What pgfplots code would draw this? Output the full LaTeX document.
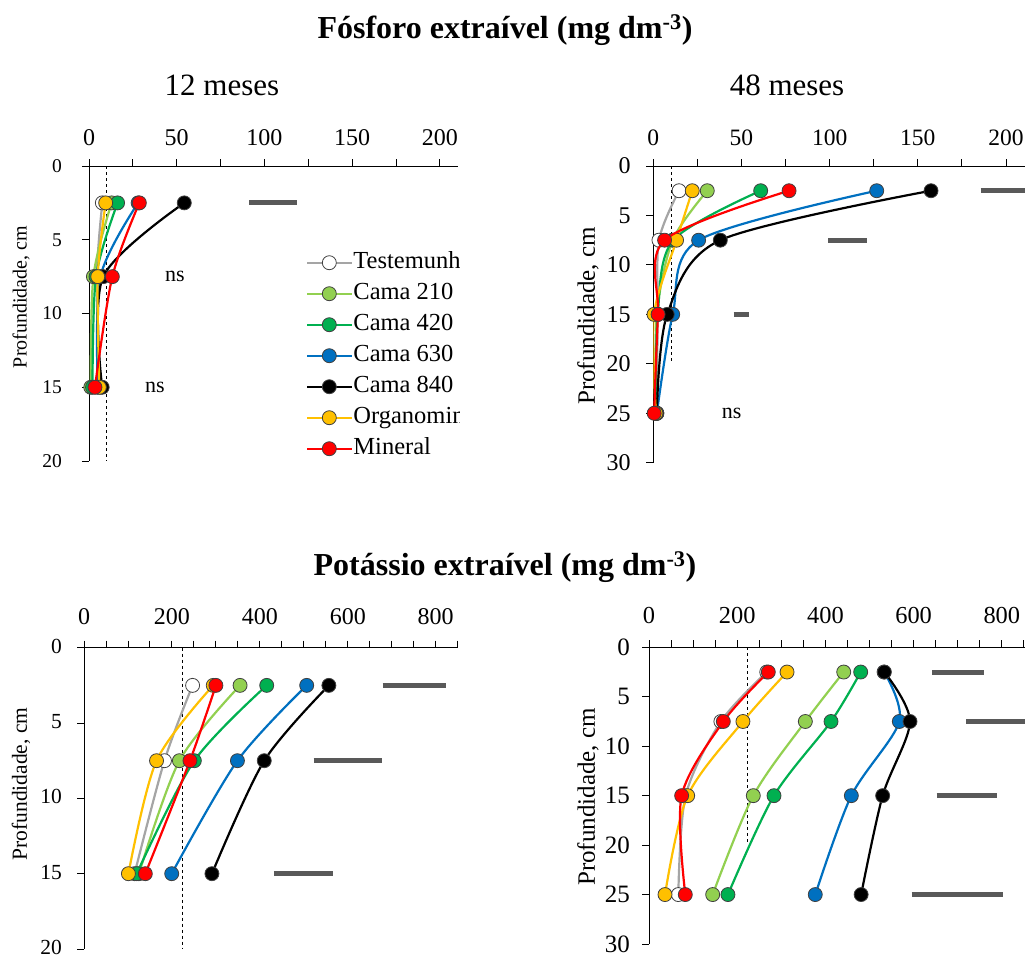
\documentclass[border=0pt]{standalone}
\usepackage{fontspec}
\setmainfont{Liberation Serif}
\usepackage{pgfplots}
\pgfplotsset{compat=1.18}

\definecolor{cTest}{HTML}{A5A5A5}
\definecolor{cC210}{HTML}{92D050}
\definecolor{cC420}{HTML}{00B050}
\definecolor{cC630}{HTML}{0070C0}
\definecolor{cC840}{HTML}{000000}
\definecolor{cOrg}{HTML}{FFC000}
\definecolor{cMin}{HTML}{FF0000}
\definecolor{lsd}{HTML}{595959}
\definecolor{mk}{HTML}{404040}

\pgfplotsset{
  perfil/.style={
    scale only axis, y dir=reverse, ymin=0,
    axis x line*=top, axis y line*=left,
    axis line style={-, line width=0.9pt, black},
    tick align=outside, major tick length=7pt,
    tick style={line width=0.9pt, black},
    /pgf/number format/assume math mode=true,
    clip mode=individual,
  },
  serie/.style 2 args={draw=#1, line width=2.2pt, smooth,
    mark=*, mark size=7pt,
    mark options={fill=#2, draw=mk, line width=0.8pt, solid}},
  dms/.style={black, line width=0.8pt, dash pattern=on 3pt off 3pt, forget plot},
  dmsbar/.style={lsd, line width=5pt, forget plot},
}

\begin{document}
\begin{tikzpicture}
\useasboundingbox (0pt,0pt) rectangle (1025pt,-958pt);

% ---------- titles ----------
\node[font=\fontsize{32}{38}\selectfont\bfseries] at (505pt,-30pt) {Fósforo extraível (mg dm\textsuperscript{-3})};
\node[font=\fontsize{32}{38}\selectfont\bfseries] at (505pt,-567pt) {Potássio extraível (mg dm\textsuperscript{-3})};
\node[font=\fontsize{31}{36}\selectfont] at (222pt,-85pt) {12 meses};
\node[font=\fontsize{31}{36}\selectfont] at (787pt,-85pt) {48 meses};

% ---------- y labels ----------
\node[rotate=90, font=\fontsize{20}{24}\selectfont] at (21pt,-297pt) {Profundidade, cm};
\node[rotate=90, font=\fontsize{25}{30}\selectfont] at (588pt,-316pt) {Profundidade, cm};
\node[rotate=90, font=\fontsize{21.5}{26}\selectfont] at (21pt,-784pt) {Profundidade, cm};
\node[rotate=90, font=\fontsize{25}{30}\selectfont] at (588pt,-797pt) {Profundidade, cm};

% ---------- P, 12 meses ----------
\begin{scope}
\clip (0pt,-110pt) rectangle (459pt,-490pt);
\begin{axis}[perfil,
  at={(89pt,-461pt)}, anchor=south west,
  width=369pt, height=295pt,
  xmin=0, xmax=210.3, ymax=20,
  xtick={0,25,...,200}, xticklabels={0,,50,,100,,150,,200},
  ytick={0,5,10,15,20},
  xticklabel style={font=\fontsize{24}{28}\selectfont, inner sep=0pt, yshift=13pt},
  yticklabel style={font=\fontsize{19.5}{24}\selectfont, inner sep=0pt, xshift=-20pt},
  legend style={at={(0.58,0.722)}, anchor=north west, draw=none, fill=none,
    font=\fontsize{24.5}{29}\selectfont, row sep=6pt,
    nodes={inner sep=1pt, text height=17pt, text depth=6pt}},
  legend cell align=left,
  legend image code/.code={\draw[mark repeat=2, mark phase=2, #1]
    plot coordinates {(0pt,0pt) (22pt,0pt) (44pt,0pt)};},
]
\addplot[dms] coordinates {(10,0) (10,20)};
\addplot[dmsbar] coordinates {(91.2,2.5) (118.3,2.5)};
\addplot[serie={cTest}{white}] coordinates {(7.6,2.5) (4.5,7.5) (6.5,15)};
\addplot[serie={cC210}{cC210}] coordinates {(12.9,2.5) (2.5,7.5) (1.0,15)};
\addplot[serie={cC420}{cC420}] coordinates {(16.3,2.5) (4.0,7.5) (2.0,15)};
\addplot[serie={cC630}{cC630}] coordinates {(28.0,2.5) (6.5,7.5) (5.0,15)};
\addplot[serie={cC840}{cC840}] coordinates {(54.3,2.5) (8.1,7.5) (7.5,15)};
\addplot[serie={cOrg}{cOrg}] coordinates {(9.5,2.5) (5.0,7.5) (5.9,15)};
\addplot[serie={cMin}{cMin}] coordinates {(28.7,2.5) (13.3,7.5) (3.4,15)};
\legend{Testemunha, Cama 210, Cama 420, Cama 630, Cama 840, Organomineral, Mineral}
\node[font=\fontsize{22}{26}\selectfont] at (axis cs:49,7.5) {ns};
\node[font=\fontsize{22}{26}\selectfont] at (axis cs:37.6,15) {ns};
\end{axis}
\end{scope}

% ---------- P, 48 meses ----------
\begin{axis}[perfil,
  at={(653.3pt,-462.7pt)}, anchor=south west,
  width=371.7pt, height=296.7pt,
  xmin=0, xmax=210.8, ymax=30,
  xtick={0,25,...,200}, xticklabels={0,,50,,100,,150,,200},
  ytick={0,5,...,30},
  xticklabel style={font=\fontsize{23.5}{28}\selectfont, inner sep=0pt, yshift=13pt},
  yticklabel style={font=\fontsize{24}{28}\selectfont, inner sep=0pt, xshift=-15.5pt},
]
\addplot[dms] coordinates {(10,0) (10,20)};
\addplot[dmsbar] coordinates {(185.6,2.5) (215,2.5)};
\addplot[dmsbar] coordinates {(99.2,7.5) (121.4,7.5)};
\addplot[dmsbar] coordinates {(45.6,15) (54.1,15)};
\addplot[serie={cTest}{white}] coordinates {(14.6,2.5) (3.2,7.5) (2.5,15) (2.0,25)};
\addplot[serie={cC210}{cC210}] coordinates {(30.6,2.5) (11.0,7.5) (2.0,15) (1.5,25)};
\addplot[serie={cC420}{cC420}] coordinates {(60.9,2.5) (11.3,7.5) (2.5,15) (1.5,25)};
\addplot[serie={cC630}{cC630}] coordinates {(126.7,2.5) (25.7,7.5) (11.0,15) (2.0,25)};
\addplot[serie={cC840}{cC840}] coordinates {(157.5,2.5) (38.0,7.5) (7.9,15) (2.0,25)};
\addplot[serie={cOrg}{cOrg}] coordinates {(22.1,2.5) (13.2,7.5) (0.4,15) (1.5,25)};
\addplot[serie={cMin}{cMin}] coordinates {(77.0,2.5) (6.4,7.5) (2.7,15) (0.5,25)};
\node[font=\fontsize{22}{26}\selectfont] at (axis cs:44.4,25) {ns};
\end{axis}

% ---------- K, 12 meses ----------
\begin{axis}[perfil,
  at={(84pt,-949pt)}, anchor=south west,
  width=373.7pt, height=301.3pt,
  xmin=0, xmax=850, ymax=20,
  xtick={0,50,...,850}, xticklabels={0,,,,200,,,,400,,,,600,,,,800,},
  ytick={0,5,10,15,20},
  xticklabel style={font=\fontsize{24}{28}\selectfont, inner sep=0pt, yshift=16pt},
  yticklabel style={font=\fontsize{21.5}{26}\selectfont, inner sep=0pt, xshift=-15pt, yshift=1.5pt},
]
\addplot[dms] coordinates {(224,0) (224,20)};
\addplot[dmsbar] coordinates {(679,2.5) (823,2.5)};
\addplot[dmsbar] coordinates {(522.5,7.5) (678.6,7.5)};
\addplot[dmsbar] coordinates {(432,15) (567,15)};
\addplot[serie={cTest}{white}] coordinates {(247,2.5) (183,7.5) (115,15)};
\addplot[serie={cC210}{cC210}] coordinates {(355,2.5) (217,7.5) (125,15)};
\addplot[serie={cC420}{cC420}] coordinates {(415.6,2.5) (251,7.5) (120,15)};
\addplot[serie={cC630}{cC630}] coordinates {(506.5,2.5) (349,7.5) (199.5,15)};
\addplot[serie={cC840}{cC840}] coordinates {(557,2.5) (410,7.5) (291,15)};
\addplot[serie={cOrg}{cOrg}] coordinates {(294,2.5) (165,7.5) (101,15)};
\addplot[serie={cMin}{cMin}] coordinates {(300,2.5) (241,7.5) (139.5,15)};
\end{axis}

% ---------- K, 48 meses ----------
\begin{axis}[perfil,
  at={(649pt,-944pt)}, anchor=south west,
  width=376pt, height=296.7pt,
  xmin=0, xmax=852.6, ymax=30,
  xtick={0,50,...,850}, xticklabels={0,,,,200,,,,400,,,,600,,,,800,},
  ytick={0,5,...,30},
  xticklabel style={font=\fontsize{24.4}{28}\selectfont, inner sep=0pt, yshift=16pt},
  yticklabel style={font=\fontsize{25}{30}\selectfont, inner sep=0pt, xshift=-12pt},
]
\addplot[dms] coordinates {(224,0) (224,20)};
\addplot[dmsbar] coordinates {(642,2.5) (758.7,2.5)};
\addplot[dmsbar] coordinates {(719,7.5) (870,7.5)};
\addplot[dmsbar] coordinates {(652,15) (788,15)};
\addplot[dmsbar] coordinates {(595.6,25) (803,25)};
\addplot[serie={cTest}{white}] coordinates {(267,2.5) (163,7.5) (83,15) (66.5,25)};
\addplot[serie={cC210}{cC210}] coordinates {(441.5,2.5) (354.5,7.5) (236.5,15) (144.4,25)};
\addplot[serie={cC420}{cC420}] coordinates {(480,2.5) (412.7,7.5) (283.4,15) (179,25)};
\addplot[serie={cC630}{cC630}] coordinates {(533,2.5) (567.6,7.5) (458.8,15) (377,25)};
\addplot[serie={cC840}{cC840}] coordinates {(533.6,2.5) (591.8,7.5) (529.8,15) (481,25)};
\addplot[serie={cOrg}{cOrg}] coordinates {(313,2.5) (213,7.5) (87.7,15) (36.3,25)};
\addplot[serie={cMin}{cMin}] coordinates {(270.5,2.5) (168.5,7.5) (74,15) (82.3,25)};
\end{axis}
\end{tikzpicture}
\end{document}
